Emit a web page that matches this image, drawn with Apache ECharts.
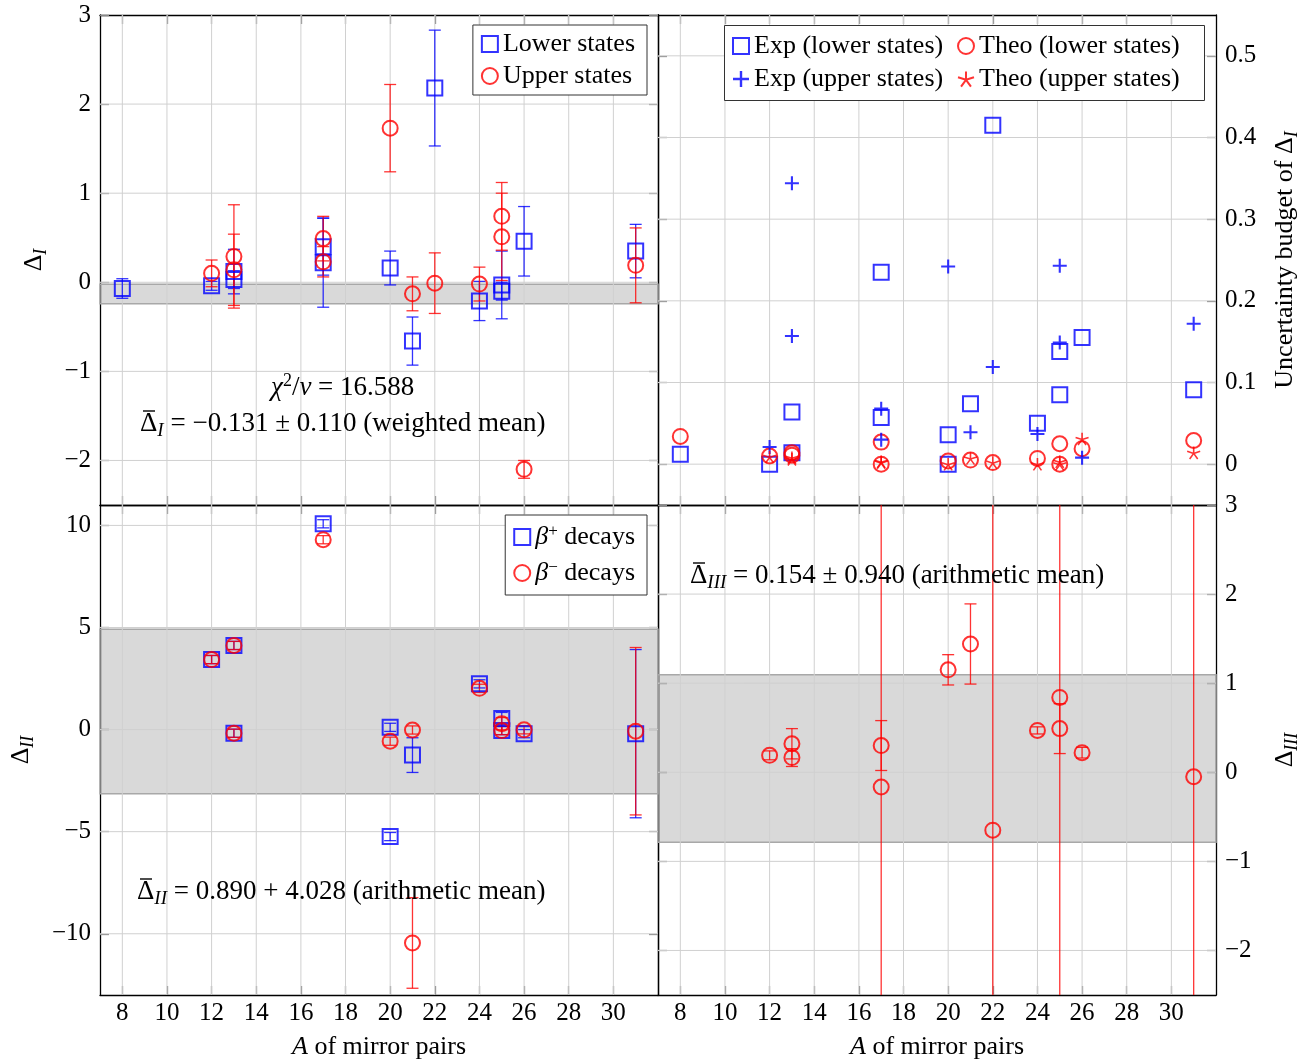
<!DOCTYPE html>
<html lang="en">
<head>
<meta charset="UTF-8">
<script src="https://cdn.jsdelivr.net/npm/echarts@6/dist/echarts.min.js"></script>
<title>Mirror pairs</title>
<style>html,body{margin:0;padding:0;background:#fff}</style>
</head>
<body>
<div id="main" style="width:1311px;height:1059px;"></div>
<script type="text/javascript">
// tick values
var xTicks = [8, 10, 12, 14, 16, 18, 20, 22, 24, 26, 28, 30];
var yTicksI = [-2, -1, 0, 1, 2, 3];
var yTicksU = [0, 0.1, 0.2, 0.3, 0.4, 0.5];
var yTicksII = [-10, -5, 0, 5, 10];
var yTicksIII = [-2, -1, 0, 1, 2, 3];

// top left: Delta_I
var lowerA   = [8, 12, 13, 13, 17, 17, 20, 21, 22, 24, 25, 25, 26, 31];
var lowerVal = [-0.07, -0.04, 0.12, 0.03, 0.40, 0.22, 0.16, -0.66, 2.18, -0.21, -0.03, -0.10, 0.46, 0.35];
var lowerErr = [0.11, 0.05, 0.25, 0.10, 0.32, 0.50, 0.19, 0.27, 0.65, 0.22, 0.38, 0.10, 0.39, 0.30];
var upperA   = [12, 13, 13, 17, 17, 20, 21, 22, 24, 25, 25, 26, 31];
var upperVal = [0.10, 0.29, 0.14, 0.49, 0.23, 1.73, -0.13, -0.01, -0.02, 0.74, 0.51, -2.10, 0.19];
var upperErr = [0.15, 0.58, 0.40, 0.25, 0.17, 0.49, 0.19, 0.34, 0.19, 0.38, 0.49, 0.10, 0.42];
var meanI = -0.131, sigI = 0.110;

// top right: uncertainty budget
var expLowA  = [8, 12, 13, 13, 17, 17, 20, 20, 21, 22, 24, 25, 25, 26, 31];
var expLow   = [0.012, 0.0, 0.064, 0.014, 0.235, 0.057, 0.036, 0.0, 0.074, 0.415, 0.05, 0.138, 0.085, 0.155, 0.091];
var expUpA   = [12, 13, 13, 17, 17, 20, 21, 22, 24, 25, 25, 26, 31];
var expUp    = [0.021, 0.344, 0.157, 0.068, 0.03, 0.242, 0.039, 0.119, 0.037, 0.243, 0.149, 0.008, 0.172];
var theoLowA = [8, 12, 13, 13, 17, 17, 20, 21, 22, 24, 25, 25, 26, 31];
var theoLow  = [0.034, 0.01, 0.014, 0.011, 0.027, 0.0, 0.004, 0.005, 0.002, 0.007, 0.025, 0.0, 0.019, 0.029];
var theoUpA  = [12, 13, 13, 17, 17, 20, 21, 22, 24, 25, 25, 26, 31];
var theoUp   = [0.009, 0.008, 0.006, 0.003, 0.002, 0.0, 0.007, 0.002, 0.0, 0.003, 0.0, 0.031, 0.014];

// bottom left: Delta_II
var bPlusA   = [12, 13, 13, 17, 20, 20, 21, 24, 25, 25, 26, 31];
var bPlus    = [3.43, 4.12, -0.18, 10.08, 0.11, -5.24, -1.25, 2.24, 0.54, -0.05, -0.2, -0.2];
var bPlusErr = [0.2, 0.2, 0.2, 0.2, 0.2, 0.2, 0.85, 0.2, 0.3, 0.2, 0.2, 4.12];
var bMinA    = [12, 13, 13, 17, 20, 21, 21, 24, 25, 25, 26, 31];
var bMin     = [3.43, 4.12, -0.18, 9.3, -0.57, -0.02, -10.45, 2.02, 0.29, -0.05, -0.01, -0.08];
var bMinErr  = [0.2, 0.2, 0.2, 0.2, 0.2, 0.2, 2.22, 0.2, 0.3, 0.2, 0.2, 4.1];
var meanII = 0.890, sigII = 4.028;

// bottom right: Delta_III
var d3A   = [12, 13, 13, 17, 17, 20, 21, 22, 24, 25, 25, 26, 31];
var d3    = [0.19, 0.32, 0.165, 0.30, -0.165, 1.15, 1.44, -0.65, 0.47, 0.84, 0.49, 0.22, -0.05];
var d3Err = [0.05, 0.17, 0.10, 0.28, 5, 0.17, 0.45, 5, 0.04, 5, 0.28, 0.06, 5];
var meanIII = 0.154, sigIII = 0.940;

var BLUE = '#0000ff', RED = '#ff0000';
var FONT = 'Liberation Serif';
var PLUS = 'path://M8.5,0h3v8.5h8.5v3h-8.5v8.5h-3v-8.5h-8.5v-3h8.5z';
var STAR = 'path://M10,10L10,0M10,10L19.51,6.91M10,10L15.88,18.09M10,10L4.12,18.09M10,10L0.49,6.91';

var myChart = echarts.init(document.getElementById('main'));

function minus(v) { return String(v).replace('-', '\u2212'); }
function pairs(xs, ys) { return xs.map(function (x, i) { return [x, ys[i]]; }); }
function triples(xs, ys, es) { return xs.map(function (x, i) { return [x, ys[i], es[i]]; }); }

var richSub = {
  d: { fontFamily: FONT, fontSize: 26, color: '#000', lineHeight: 32 },
  s: { fontFamily: FONT, fontSize: 18, fontStyle: 'italic', color: '#000', lineHeight: 16, verticalAlign: 'bottom' },
  i: { fontFamily: FONT, fontSize: 26, fontStyle: 'italic', color: '#000', lineHeight: 32 }
};

function xAxes(g, labels) {
  var base = {
    type: 'value', gridIndex: g, min: 7, max: 32,
    axisLine: { onZero: false, lineStyle: { color: '#000', width: 1.3 } },
    axisTick: { inside: true, length: 9, customValues: xTicks, lineStyle: { color: '#888', width: 1.3 } },
    splitLine: { show: false }
  };
  var bottom = Object.assign({}, base, {
    position: 'bottom',
    axisLabel: { show: labels, customValues: xTicks, color: '#000', fontFamily: FONT, fontSize: 25, margin: 6 },
    name: labels ? '{i|A} of mirror pairs' : '',
    nameLocation: 'middle', nameGap: 36,
    nameTextStyle: { color: '#000', fontFamily: FONT, fontSize: 26, rich: richSub }
  });
  var top = Object.assign({}, base, { position: 'top', axisLabel: { show: false } });
  return [bottom, top];
}

function yAxes(g, min, max, ticks, side, name, gap) {
  var base = {
    type: 'value', gridIndex: g, min: min, max: max,
    axisLine: { onZero: false, lineStyle: { color: '#000', width: 1.3 } },
    axisTick: { inside: true, length: 9, customValues: ticks, lineStyle: { color: '#888', width: 1.3 } },
    splitLine: { show: false }
  };
  var main = Object.assign({}, base, {
    position: side,
    axisLabel: { customValues: ticks, formatter: minus, color: '#000', fontFamily: FONT, fontSize: 25, margin: 9 },
    name: name, nameLocation: 'middle', nameGap: gap, nameRotate: 90,
    nameTextStyle: { color: '#000', fontFamily: FONT, fontSize: 26, rich: richSub }
  });
  var other = Object.assign({}, base, { position: side === 'left' ? 'right' : 'left', axisLabel: { show: false } });
  return [main, other];
}

function gridLines(g, yTicks, yRef) {
  var vert = {
    type: 'custom', xAxisIndex: 2 * g, yAxisIndex: 2 * g, z: 1, silent: true, clip: true,
    data: xTicks.map(function (v) { return [v, yRef]; }),
    renderItem: function (params, api) {
      var cs = params.coordSys;
      var p = api.coord([api.value(0), api.value(1)]);
      return { type: 'line', shape: { x1: p[0], y1: cs.y, x2: p[0], y2: cs.y + cs.height },
        style: { stroke: '#d0d0d0', lineWidth: 1 } };
    }
  };
  var hor = {
    type: 'custom', xAxisIndex: 2 * g, yAxisIndex: 2 * g, z: 1, silent: true, clip: true,
    data: yTicks.map(function (v) { return [8, v]; }),
    renderItem: function (params, api) {
      var cs = params.coordSys;
      var p = api.coord([api.value(0), api.value(1)]);
      return { type: 'line', shape: { x1: cs.x, y1: p[1], x2: cs.x + cs.width, y2: p[1] },
        style: { stroke: '#d0d0d0', lineWidth: 1 } };
    }
  };
  return [vert, hor];
}

function band(g, m, s) {
  return {
    type: 'line', xAxisIndex: 2 * g, yAxisIndex: 2 * g, data: [], silent: true, z: 1,
    markArea: {
      silent: true, label: { show: false },
      itemStyle: { color: 'rgba(0,0,0,0.15)', borderColor: '#a8a8a8', borderWidth: 1.5 },
      data: [[{ yAxis: m - s }, { yAxis: m + s }]]
    }
  };
}

function errBars(g, xs, ys, es, color) {
  return {
    type: 'custom', xAxisIndex: 2 * g, yAxisIndex: 2 * g, silent: true, clip: true, z: 2,
    data: triples(xs, ys, es),
    encode: { x: 0, y: 1 },
    renderItem: function (params, api) {
      var x = api.value(0), y = api.value(1), e = api.value(2);
      var t = api.coord([x, y + e]), b = api.coord([x, y - e]);
      var w = 6, st = { stroke: color, lineWidth: 1.3 };
      return { type: 'group', children: [
        { type: 'line', shape: { x1: t[0], y1: t[1], x2: b[0], y2: b[1] }, style: st },
        { type: 'line', shape: { x1: t[0] - w, y1: t[1], x2: t[0] + w, y2: t[1] }, style: st },
        { type: 'line', shape: { x1: b[0] - w, y1: b[1], x2: b[0] + w, y2: b[1] }, style: st }
      ] };
    }
  };
}

function marks(name, g, xs, ys, symbol, size, style) {
  return {
    type: 'scatter', name: name, xAxisIndex: 2 * g, yAxisIndex: 2 * g, z: 3,
    symbol: symbol, symbolSize: size, symbolKeepAspect: true,
    itemStyle: style, emphasis: { disabled: true },
    data: pairs(xs, ys)
  };
}

var sq = { color: 'rgba(0,0,0,0)', borderColor: BLUE, borderWidth: 2 };
var ci = { color: 'rgba(0,0,0,0)', borderColor: RED, borderWidth: 2 };
var pl = { color: BLUE };
var st = { color: 'rgba(0,0,0,0)', borderColor: RED, borderWidth: 1.6 };

var xAxis = [].concat(xAxes(0, false), xAxes(1, false), xAxes(2, true), xAxes(3, true));
var yAxis = [].concat(
  yAxes(0, -2.5, 3, yTicksI, 'left', '{d|\u0394}{s|I}', 50),
  yAxes(1, -0.05, 0.55, yTicksU, 'right', 'Uncertainty budget of {d|\u0394}{s|I}', 53),
  yAxes(2, -13, 11, yTicksII, 'left', '{d|\u0394}{s|II}', 63),
  yAxes(3, -2.5, 3, yTicksIII, 'right', '{d|\u0394}{s|III}', 53)
);

var series = [].concat(
  gridLines(0, [-2, -1, 0, 1, 2], 0),
  gridLines(1, yTicksU, 0),
  gridLines(2, yTicksII, 0),
  gridLines(3, [-2, -1, 0, 1, 2], 0),
  [band(0, meanI, sigI), band(2, meanII, sigII), band(3, meanIII, sigIII)],
  [
    errBars(0, lowerA, lowerVal, lowerErr, 'rgba(0,0,255,0.8)'),
    errBars(0, upperA, upperVal, upperErr, 'rgba(255,0,0,0.8)'),
    marks('Lower states', 0, lowerA, lowerVal, 'rect', 15, sq),
    marks('Upper states', 0, upperA, upperVal, 'circle', 15, ci),

    marks('Exp (lower states)', 1, expLowA, expLow, 'rect', 15, sq),
    marks('Theo (lower states)', 1, theoLowA, theoLow, 'circle', 15, ci),
    marks('Exp (upper states)', 1, expUpA, expUp, PLUS, 14, pl),
    marks('Theo (upper states)', 1, theoUpA, theoUp, STAR, 13, st),

    errBars(2, bPlusA, bPlus, bPlusErr, 'rgba(0,0,255,0.8)'),
    errBars(2, bMinA, bMin, bMinErr, 'rgba(255,0,0,0.8)'),
    marks('\u03b2+ decays', 2, bPlusA, bPlus, 'rect', 15, sq),
    marks('\u03b2\u2212 decays', 2, bMinA, bMin, 'circle', 15, ci),

    errBars(3, d3A, d3, d3Err, 'rgba(255,0,0,0.8)'),
    marks('Delta III', 3, d3A, d3, 'circle', 15, ci)
  ]
);

var legendBase = {
  selectedMode: false, backgroundColor: '#fff', borderColor: '#333', borderWidth: 1,
  itemWidth: 16, itemHeight: 16, itemGap: 6,
  textStyle: { fontFamily: FONT, fontSize: 26, color: '#000', lineHeight: 26 }
};

var legend = [
  Object.assign({}, legendBase, {
    data: ['Lower states', 'Upper states'], orient: 'vertical',
    right: 664, top: 25, padding: [6, 12, 6, 8]
  }),
  // top right legend: two columns sharing one box (drawn in graphic)
  Object.assign({}, legendBase, {
    data: ['Exp (lower states)', 'Exp (upper states)'], orient: 'vertical',
    left: 732, top: 33, itemGap: 7, padding: 0, borderWidth: 0, backgroundColor: 'transparent'
  }),
  Object.assign({}, legendBase, {
    data: ['Theo (lower states)', 'Theo (upper states)'], orient: 'vertical',
    left: 957, top: 33, itemGap: 7, padding: 0, borderWidth: 0, backgroundColor: 'transparent'
  }),
  Object.assign({}, legendBase, {
    data: ['\u03b2+ decays', '\u03b2\u2212 decays'], orient: 'vertical',
    right: 664, top: 515, padding: [8, 12, 8, 8], itemGap: 8,
    formatter: function (name) {
      return name.indexOf('+') > 0 ? '{b|\u03b2}{p|+} decays' : '{b|\u03b2}{p|\u2212} decays';
    },
    textStyle: {
      fontFamily: FONT, fontSize: 26, color: '#000', lineHeight: 28,
      rich: {
        b: { fontFamily: FONT, fontSize: 26, fontStyle: 'italic', color: '#000', lineHeight: 28 },
        p: { fontFamily: FONT, fontSize: 17, color: '#000', lineHeight: 14, verticalAlign: 'top' }
      }
    }
  })
];

var txtRich = {
  m: { fontFamily: FONT, fontSize: 27, fill: '#000', lineHeight: 32 },
  i: { fontFamily: FONT, fontSize: 27, fontStyle: 'italic', fill: '#000', lineHeight: 32 },
  s: { fontFamily: FONT, fontSize: 19, fontStyle: 'italic', fill: '#000', lineHeight: 16, verticalAlign: 'bottom' },
  p: { fontFamily: FONT, fontSize: 18, fill: '#000', lineHeight: 15, verticalAlign: 'top' }
};

function note(x, y, text) {
  return {
    type: 'text', x: x, y: y, z: 50, silent: true,
    style: { text: text, rich: txtRich, fontFamily: FONT, fontSize: 27, fill: '#000',
      lineHeight: 32, align: 'left', verticalAlign: 'middle' }
  };
}
// bar over the Delta of a left-aligned note
function macron(x, y) {
  return { type: 'line', z: 50, silent: true,
    shape: { x1: x + 3, y1: y - 13, x2: x + 15, y2: y - 13 },
    style: { stroke: '#000', lineWidth: 1.4 } };
}

var option = {
  animation: false,
  backgroundColor: '#fff',
  grid: [
    { left: 100, top: 15, width: 558, height: 490, outerBoundsMode: 'none' },
    { left: 658, top: 15, width: 558, height: 490, outerBoundsMode: 'none' },
    { left: 100, top: 505, width: 558, height: 490, outerBoundsMode: 'none' },
    { left: 658, top: 505, width: 558, height: 490, outerBoundsMode: 'none' }
  ],
  xAxis: xAxis,
  yAxis: yAxis,
  legend: legend,
  series: series,
  graphic: [
    { type: 'rect', z: 3, silent: true,
      shape: { x: 724.5, y: 25.5, width: 480, height: 75 },
      style: { fill: '#fff', stroke: '#333', lineWidth: 1 } },
    note(271, 388, '{i|\u03c7}{p|2}{m|/}{i|\u03bd}{m| = 16.588}'),
    note(140, 424, '{m|\u0394}{s|I}{m| = \u22120.131 \u00b1 0.110 (weighted mean)}'),
    macron(140, 424),
    note(137, 892, '{m|\u0394}{s|II}{m| = 0.890 + 4.028 (arithmetic mean)}'),
    macron(137, 892),
    note(690, 576, '{m|\u0394}{s|III}{m| = 0.154 \u00b1 0.940 (arithmetic mean)}'),
    macron(690, 576)
  ]
};

myChart.setOption(option);
</script>
</body>
</html>
